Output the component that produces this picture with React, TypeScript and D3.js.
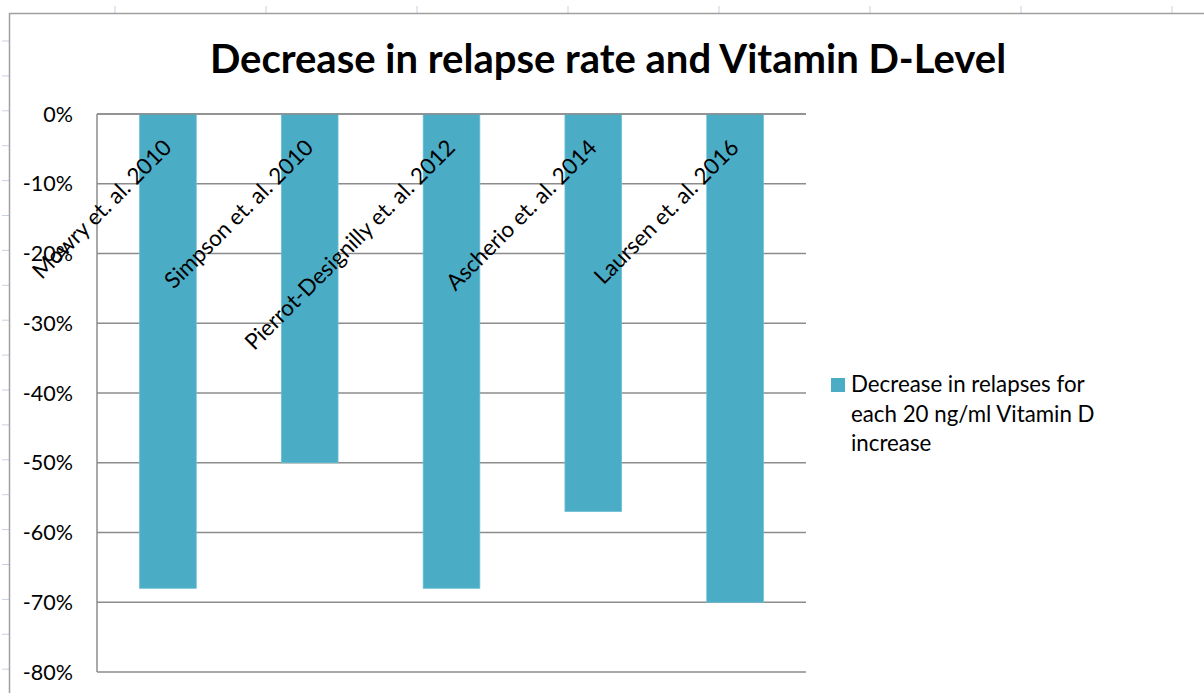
import React from "react";
import * as d3 from "d3";

const categories: string[] = [
  "Mowry et. al. 2010",
  "Simpson et. al. 2010",
  "Pierrot-Designilly et. al. 2012",
  "Ascherio et. al. 2014",
  "Laursen et. al. 2016",
];
const values: number[] = [-0.68, -0.5, -0.68, -0.57, -0.7];
const yTicks: number[] = [0, -0.1, -0.2, -0.3, -0.4, -0.5, -0.6, -0.7, -0.8];
const seriesName = "Decrease in relapses for each 20 ng/ml Vitamin D increase";
const legendLines: string[] = ["Decrease in relapses for", "each 20 ng/ml Vitamin D", "increase"];
const title = "Decrease in relapse rate and Vitamin D-Level";

const W = 1204;
const H = 693;
const FONT = "Lato, 'Open Sans', sans-serif";

export default function App() {
  const plot = { left: 97, right: 806, top: 114, bottom: 672 };
  const x = d3
    .scaleBand<string>()
    .domain(categories)
    .range([plot.left, plot.right])
    .paddingInner(0.6)
    .paddingOuter(0.3);
  const y = d3.scaleLinear().domain([-0.8, 0]).range([plot.bottom, plot.top]);
  const fmt = (v: number) => d3.format(".0%")(v).replace("\u2212", "-");

  const sheetCols = d3.range(0, 8).map((k) => 115 + 151 * k);
  const sheetRows = d3.range(0, 19).map((k) => 41 + 34.9 * k);

  return (
    <svg
      width={W}
      height={H}
      style={{ position: "absolute", left: 0, top: 0, background: "#fff" }}
      fontFamily={FONT}
    >
      {/* spreadsheet gridline stubs */}
      {sheetCols.map((cx, i) => (
        <line key={"c" + i} x1={cx} x2={cx} y1={6} y2={13} stroke="#c9d2e3" strokeWidth={1} />
      ))}
      {sheetRows.map((ry, i) => (
        <line key={"r" + i} x1={2} x2={9} y1={ry} y2={ry} stroke="#c9d2e3" strokeWidth={1} />
      ))}
      {/* chart border */}
      <rect x={9.5} y={13.5} width={W + 20} height={H + 20} fill="#fff" stroke="#a0a0a0" strokeWidth={1.5} />

      {/* title */}
      <text x={608} y={73} textAnchor="middle" fontSize={40} fontWeight="bold" fill="#000">
        {title}
      </text>

      {/* gridlines */}
      {yTicks.map((t, i) => (
        <line
          key={"g" + i}
          x1={plot.left}
          x2={plot.right}
          y1={y(t)}
          y2={y(t)}
          stroke="#8c8c8c"
          strokeWidth={1.5}
        />
      ))}
      {/* value axis line */}
      <line x1={plot.left} x2={plot.left} y1={plot.top} y2={plot.bottom} stroke="#8c8c8c" strokeWidth={1.5} />

      {/* y tick labels */}
      {yTicks.map((t, i) => (
        <text key={"yl" + i} x={73} y={y(t)} dy="0.36em" textAnchor="end" fontSize={21.5} fill="#000">
          {fmt(t)}
        </text>
      ))}

      {/* bars */}
      {categories.map((c, i) => (
        <rect
          key={"b" + i}
          x={x(c)}
          y={y(0)}
          width={x.bandwidth()}
          height={y(values[i]) - y(0)}
          fill="#4bacc6"
          stroke="#6cc0d6"
          strokeWidth={0.75}
        />
      ))}

      {/* axis line at 0 over bars */}
      <line x1={plot.left} x2={plot.right} y1={y(0)} y2={y(0)} stroke="#8c8c8c" strokeWidth={1.5} />

      {/* category labels */}
      {categories.map((c, i) => {
        const cx = (x(c) as number) + x.bandwidth() / 2;
        return (
          <text
            key={"cl" + i}
            transform={`translate(${cx + 5},${y(0) + 35}) rotate(-45)`}
            textAnchor="end"
            fontSize={22.4}
            fill="#000"
          >
            {c}
          </text>
        );
      })}

      {/* legend */}
      <g aria-label={seriesName}>
        <rect x={831} y={378} width={14} height={14} fill="#4bacc6" />
        {legendLines.map((l, i) => (
          <text key={"lg" + i} x={851} y={392 + 29.5 * i} fontSize={22.3} fill="#000">
            {l}
          </text>
        ))}
      </g>
    </svg>
  );
}
